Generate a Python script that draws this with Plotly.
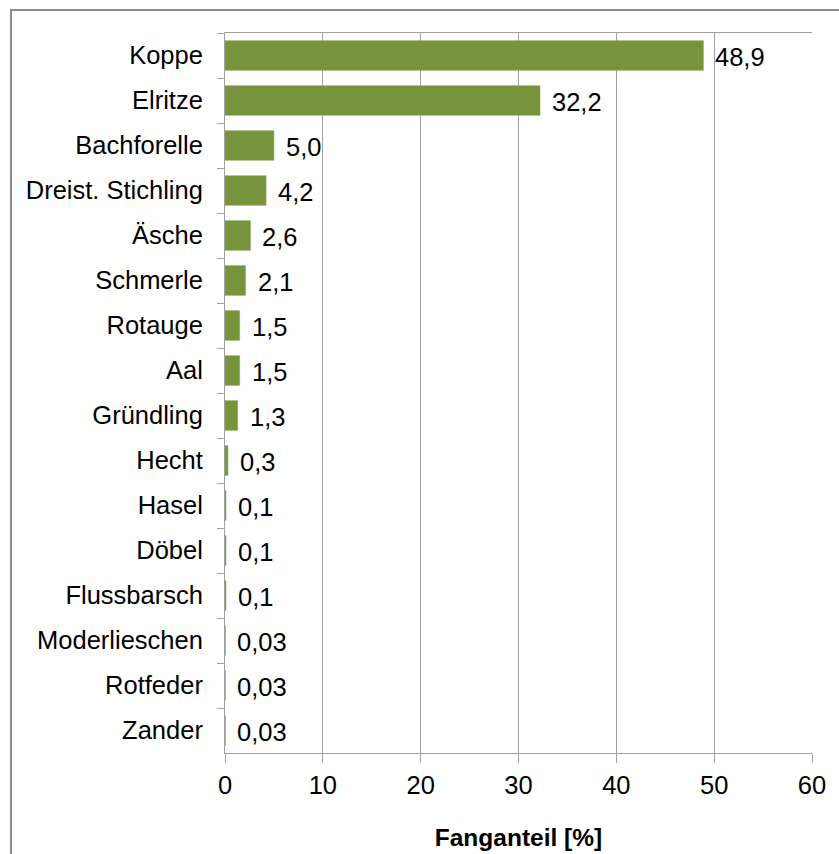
import plotly.graph_objects as go

# Fish species and their share of the total catch (%)
species = [
    "Koppe", "Elritze", "Bachforelle", "Dreist. Stichling", "Äsche",
    "Schmerle", "Rotauge", "Aal", "Gründling", "Hecht", "Hasel",
    "Döbel", "Flussbarsch", "Moderlieschen", "Rotfeder", "Zander",
]
share = [48.9, 32.2, 5.0, 4.2, 2.6, 2.1, 1.5, 1.5, 1.3, 0.3, 0.1,
         0.1, 0.1, 0.03, 0.03, 0.03]
share_labels = ["48,9", "32,2", "5,0", "4,2", "2,6", "2,1", "1,5", "1,5",
                "1,3", "0,3", "0,1", "0,1", "0,1", "0,03", "0,03", "0,03"]

x_ticks = [0, 10, 20, 30, 40, 50, 60]

FONT = "Liberation Sans, Arial, sans-serif"
FS = 25.5
BAR = "#77933C"
GRID = "#A0A0A0"

fig = go.Figure(
    go.Bar(
        x=share,
        y=species,
        orientation="h",
        marker=dict(color=BAR, line=dict(color="#8FAA55", width=0.6)),
        hoverinfo="x+y",
    )
)

# value labels placed just right of each bar end
for val, name, lab in zip(share, species, share_labels):
    fig.add_annotation(
        x=val, y=name, xref="x", yref="y",
        text=lab, showarrow=False,
        xanchor="left", yanchor="middle",
        xshift=10, yshift=-1,
        font=dict(family=FONT, size=FS, color="#000000"),
    )

fig.update_layout(
    width=839,
    height=854,
    margin=dict(l=225, r=27, t=33, b=101, autoexpand=False),
    paper_bgcolor="white",
    plot_bgcolor="white",
    bargap=0.34,
    showlegend=False,
    font=dict(family=FONT, size=FS, color="#000000"),
    xaxis=dict(
        range=[0, 60],
        tickvals=x_ticks,
        ticktext=[str(v) for v in x_ticks],
        showgrid=True,
        gridcolor=GRID,
        gridwidth=1,
        zeroline=False,
        showline=True,
        linecolor=GRID,
        linewidth=1,
        mirror=True,
        ticks="outside",
        ticklen=9,
        tickcolor=GRID,
        automargin=False,
        tickfont=dict(family=FONT, size=FS),
        title=dict(
            text="<b>Fanganteil [%]</b>",
            font=dict(family=FONT, size=24.5),
            standoff=31,
        ),
    ),
    yaxis=dict(
        type="category",
        categoryorder="array",
        categoryarray=species,
        autorange="reversed",
        showgrid=False,
        zeroline=False,
        showline=True,
        linecolor=GRID,
        linewidth=1,
        ticks="outside",
        tickson="boundaries",
        ticklen=7,
        tickcolor=GRID,
        automargin=False,
        ticklabelstandoff=16,
        tickfont=dict(family=FONT, size=FS),
    ),
    shapes=[
        # frame around the whole chart
        dict(
            type="rect",
            xref="paper",
            yref="paper",
            x0=(11 - 225) / 587,
            x1=(850 - 225) / 587,
            y0=(753 - 870) / 720,
            y1=(753 - 10) / 720,
            line=dict(color="#8C8C8C", width=2),
            fillcolor="rgba(0,0,0,0)",
            layer="below",
        )
    ],
)

fig.write_html("out.html")
